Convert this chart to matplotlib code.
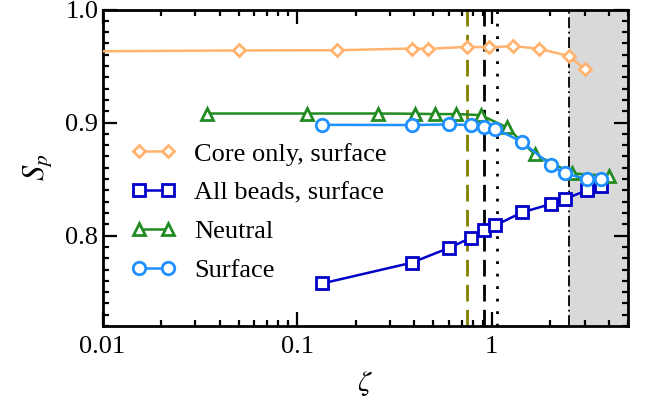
import matplotlib
matplotlib.use("Agg")
import matplotlib.pyplot as plt
from matplotlib.ticker import FixedLocator, MultipleLocator, LogLocator, NullFormatter

# ------------------------------
# data
zeta_core = [0.003, 0.05, 0.16, 0.39, 0.47, 0.75, 0.97, 1.28, 1.75, 2.5, 3.0]
sp_core = [0.9625, 0.9638, 0.9640, 0.9655, 0.9652, 0.967, 0.9665, 0.9677, 0.9653, 0.9588, 0.9473]

zeta_beads = [0.135, 0.388, 0.605, 0.782, 0.915, 1.042, 1.43, 2.01, 2.37, 3.08, 3.63]
sp_beads = [0.7577, 0.776, 0.7892, 0.798, 0.8049, 0.809, 0.8205, 0.8279, 0.8323, 0.840, 0.8438]

zeta_neutral = [0.0344, 0.113, 0.261, 0.405, 0.51, 0.658, 0.878, 1.197, 1.66, 2.59, 4.03]
sp_neutral = [0.908, 0.908, 0.908, 0.9078, 0.9075, 0.9075, 0.9066, 0.8958, 0.8721, 0.855, 0.8529]

zeta_surface = [0.135, 0.388, 0.605, 0.782, 0.915, 1.042, 1.43, 2.01, 2.37, 3.08, 3.63]
sp_surface = [0.898, 0.8978, 0.8984, 0.8978, 0.8963, 0.8945, 0.883, 0.8624, 0.855, 0.850, 0.8497]

vline_olive = 0.75
vline_dashed = 0.91
vline_dotted = 1.06
shade_start = 2.5

xlim = (0.01, 5.0)
ylim = (0.72, 1.0)
xticks = [0.01, 0.1, 1]
xticklabels = ["0.01", "0.1", "1"]
yticks = [0.8, 0.9, 1.0]
yticklabels = ["0.8", "0.9", "1.0"]

# ------------------------------
plt.rcParams["font.family"] = ["Liberation Serif", "DejaVu Serif"]
plt.rcParams["mathtext.fontset"] = "stix"
plt.rcParams["font.size"] = 19

fig = plt.figure(figsize=(6.46, 4.05), dpi=100)
ax = fig.add_axes([0.1587, 0.195, 0.813, 0.7815])

ax.axvspan(shade_start, xlim[1], color="#d9d9d9", lw=0, zorder=0)
ax.axvline(shade_start, color="black", lw=1.3, ls=(0, (6, 2, 1, 2)), zorder=1)
ax.axvline(vline_olive, color="#808000", lw=2, ls=(0, (6, 3)), zorder=1)
ax.axvline(vline_dashed, color="black", lw=2, ls=(0, (6, 3)), zorder=1)
ax.axvline(vline_dotted, color="black", lw=2, ls=(0, (1, 3.5)), zorder=1)

common = dict(lw=1.8, mfc="white", mew=2, zorder=3)
ax.plot(zeta_core, sp_core, marker="D", ms=6.5, color="#ffb36e",
        label="Core only, surface", **common)
ax.plot(zeta_beads, sp_beads, marker="s", ms=8, color="#0000c8",
        label="All beads, surface", **common)
ax.plot(zeta_neutral, sp_neutral, marker="^", ms=9, color="#228b22",
        label="Neutral", **common)
ax.plot(zeta_surface, sp_surface, marker="o", ms=9, color="#1e90ff",
        label="Surface", **common)

ax.set_xscale("log")
ax.set_xlim(*xlim)
ax.set_ylim(*ylim)
ax.xaxis.set_major_locator(FixedLocator(xticks))
ax.set_xticklabels(xticklabels)
ax.xaxis.set_minor_locator(LogLocator(base=10, subs=range(2, 10), numticks=20))
ax.xaxis.set_minor_formatter(NullFormatter())
ax.yaxis.set_major_locator(FixedLocator(yticks))
ax.set_yticklabels(yticklabels)
ax.yaxis.set_minor_locator(MultipleLocator(0.01))

ax.tick_params(which="both", direction="in", top=True, right=True, width=1.6)
ax.tick_params(which="major", length=10)
ax.tick_params(which="minor", length=4.5)
ax.tick_params(axis="x", pad=7)
ax.tick_params(axis="y", pad=3)
for sp in ax.spines.values():
    sp.set_linewidth(2)

ax.set_xlabel(r"$\zeta$", fontsize=21, labelpad=8)
ax.set_ylabel(r"$S_p$", fontsize=22, labelpad=8)

ax.legend(loc="upper left", bbox_to_anchor=(0.034, 0.614), frameon=False,
          numpoints=2, handlelength=1.7, handletextpad=0.7, labelspacing=0.58,
          borderaxespad=0, fontsize=19)

fig.savefig("out.png", dpi=100)
